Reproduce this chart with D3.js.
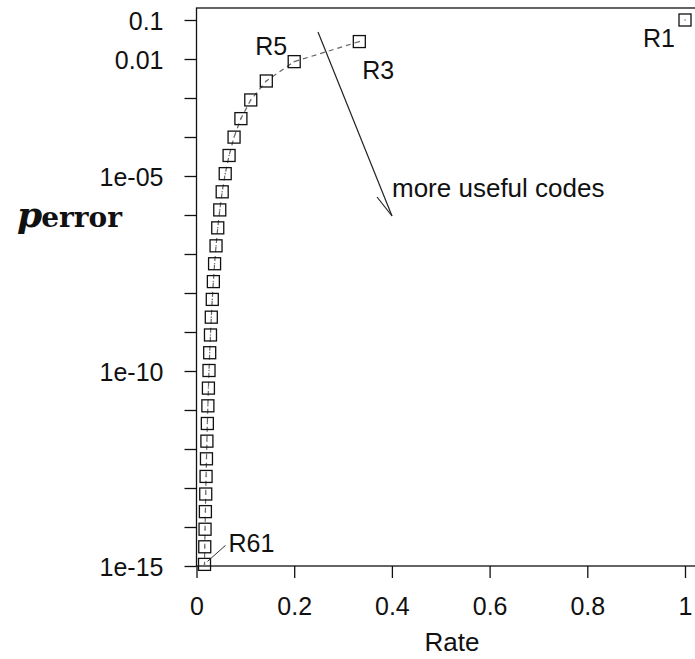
<!DOCTYPE html>
<html>
<head>
<meta charset="utf-8">
<script src="https://cdn.jsdelivr.net/npm/d3@7"></script>
<style>
body{margin:0;background:#fff;}
text{font-family:"Liberation Sans",Arial,sans-serif;fill:#111;}
</style>
</head>
<body>
<svg id="chart"></svg>
<script>
// repetition codes R1..R61 over a BSC with f = 0.1
var blockLengths=[1,3,5,7,9,11,13,15,17,19,21,23,25,27,29,31,33,35,37,39,41,43,45,47,49,51,53,55,57,59,61];
var rates=[1,0.3333,0.2,0.1429,0.1111,0.0909,0.0769,0.0667,0.0588,0.0526,0.0476,0.0435,0.04,0.037,0.0345,0.0323,
    0.0303,0.0286,0.027,0.0256,0.0244,0.0233,0.0222,0.0213,0.0204,0.0196,0.0189,0.0182,0.0175,0.0169,0.0164];
var pError=[0.1,0.028,0.00856,0.00273,8.91e-4,2.96e-4,9.93e-5,3.36e-5,1.15e-5,3.93e-6,1.35e-6,4.68e-7,1.62e-7,
    5.63e-8,1.96e-8,6.85e-9,2.40e-9,8.39e-10,2.94e-10,1.03e-10,3.64e-11,1.28e-11,4.51e-12,1.59e-12,5.61e-13,
    1.98e-13,7.01e-14,2.48e-14,8.77e-15,3.11e-15,1.10e-15];
var xTicks=[0,0.2,0.4,0.6,0.8,1];
var xTickLabels=["0","0.2","0.4","0.6","0.8","1"];
var yTicks=[1e-1,1e-2,1e-3,1e-4,1e-5,1e-6,1e-7,1e-8,1e-9,1e-10,1e-11,1e-12,1e-13,1e-14,1e-15];
var yLabelled={"0.1":"0.1","0.01":"0.01","0.00001":"1e-05","1e-10":"1e-10","1e-15":"1e-15"};
var labelled=["R1","R3","R5","R61"];

var screen={width:695,height:659}
var plot={left:196.5,top:8,right:705,bottom:566}

var svg=d3.select("#chart")
    .attr("width",screen.width)
    .attr("height",screen.height)

var xScale=d3.scaleLinear()
    .domain([0,1])
    .range([plot.left,685])
var yScale=d3.scaleLog()
    .domain([1e-15,1e-1])
    .range([plot.bottom,20])

var points=blockLengths.map(function(n,i){
    return {name:"R"+n,rate:rates[i],p:pError[i]}
})

//frame
svg.append("rect")
    .attr("x",plot.left).attr("y",plot.top)
    .attr("width",plot.right-plot.left).attr("height",plot.bottom-plot.top)
    .attr("fill","none").attr("stroke","#111").attr("stroke-width",1.3)

//axes
var yAxis=d3.axisLeft(yScale)
    .tickValues(yTicks)
    .tickSize(12)
    .tickFormat(function(d){
        var s=yLabelled[String(d)];
        return s?s:"";
    })
svg.append("g")
    .attr("transform","translate("+plot.left+",0)")
    .call(yAxis)
    .call(function(g){
        g.select(".domain").remove();
        g.selectAll("line").attr("stroke","#111").attr("stroke-width",1.3);
        g.selectAll("text").attr("font-size",25).attr("x",-33).attr("dy","0.36em")
            .attr("font-family","Liberation Sans, Arial, sans-serif").attr("fill","#1a1a1a");
    })

var xAxis=d3.axisBottom(xScale)
    .tickValues(xTicks)
    .tickSize(12)
    .tickFormat(function(d,i){return xTickLabels[i]})
svg.append("g")
    .attr("transform","translate(0,"+plot.bottom+")")
    .call(xAxis)
    .call(function(g){
        g.select(".domain").remove();
        g.selectAll("line").attr("stroke","#111").attr("stroke-width",1.3);
        g.selectAll("text").attr("font-size",25).attr("y",49).attr("dy",0)
            .attr("font-family","Liberation Sans, Arial, sans-serif").attr("fill","#1a1a1a");
    })

//axis titles
svg.append("text")
    .attr("x",452).attr("y",651)
    .attr("text-anchor","middle")
    .attr("font-size",26)
    .text("Rate")

var ylab=svg.append("text")
    .attr("x",17).attr("y",227)
    .style("font-family","'DejaVu Serif',serif")
    .style("font-weight","bold")
ylab.append("tspan").attr("font-size",36).attr("font-style","italic").text("p")
ylab.append("tspan").attr("font-size",28).attr("dx",-1).text("error")

//dashed line, R3 onwards
var line=d3.line()
    .x(function(d){return xScale(d.rate)})
    .y(function(d){return yScale(d.p)})
svg.append("path")
    .datum(points.slice(1))
    .attr("d",line)
    .attr("fill","none")
    .attr("stroke","#666")
    .attr("stroke-width",1.2)
    .attr("stroke-dasharray","5,4")

//square markers
var sq=12
svg.append("g").selectAll("rect")
    .data(points)
    .enter()
    .append("rect")
    .attr("x",function(d){return xScale(d.rate)-sq/2})
    .attr("y",function(d){return yScale(d.p)-sq/2})
    .attr("width",sq).attr("height",sq)
    .attr("fill","none")
    .attr("stroke","#111")
    .attr("stroke-width",1.3)
svg.append("g").selectAll("circle")
    .data(points)
    .enter()
    .append("circle")
    .attr("cx",function(d){return xScale(d.rate)})
    .attr("cy",function(d){return yScale(d.p)})
    .attr("r",0.8)
    .attr("fill","#777")

//code labels
var offsets={R1:[-10,27,"end"],R3:[3,37,"start"],R5:[-7,-7,"end"],R61:[24,-12,"start"]}
svg.append("g").selectAll("text")
    .data(points.filter(function(d){return labelled.indexOf(d.name)>=0}))
    .enter()
    .append("text")
    .attr("x",function(d){return xScale(d.rate)+offsets[d.name][0]})
    .attr("y",function(d){return yScale(d.p)+offsets[d.name][1]})
    .attr("text-anchor",function(d){return offsets[d.name][2]})
    .attr("font-size",25)
    .text(function(d){return d.name})

//leader to R61
var r61=points[points.length-1]
svg.append("line")
    .attr("x1",xScale(r61.rate)+3).attr("y1",yScale(r61.p)-3)
    .attr("x2",xScale(r61.rate)+21).attr("y2",yScale(r61.p)-19)
    .attr("stroke","#333").attr("stroke-width",1)

//arrow
svg.append("line")
    .attr("x1",318).attr("y1",32).attr("x2",392).attr("y2",216)
    .attr("stroke","#222").attr("stroke-width",1.2)
svg.append("line")
    .attr("x1",392).attr("y1",216).attr("x2",377).attr("y2",197)
    .attr("stroke","#222").attr("stroke-width",1.2)
svg.append("text")
    .attr("x",392).attr("y",197)
    .attr("font-size",26)
    .text("more useful codes")
</script>
</body>
</html>
